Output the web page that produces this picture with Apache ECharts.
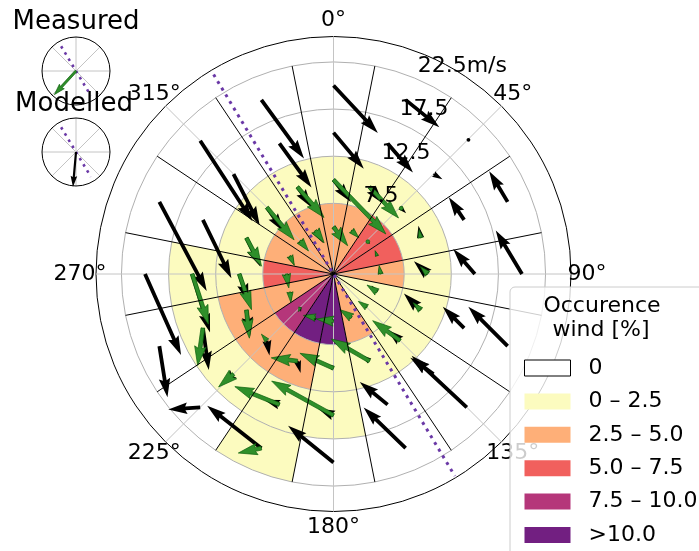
<!DOCTYPE html>
<html>
<head>
<meta charset="utf-8">
<script src="https://cdn.jsdelivr.net/npm/echarts@6/dist/echarts.min.js"></script>
<style>
  html, body { margin: 0; padding: 0; background: #ffffff; }
  #chart { width: 699px; height: 551px; }
</style>
</head>
<body>
<div id="chart"></div>
<script>
// ---- wind rose data -------------------------------------------------------
// 16 direction sectors (compass degrees, clockwise from north)
const sectorDirs = [0, 22.5, 45, 67.5, 90, 112.5, 135, 157.5, 180, 202.5, 225, 247.5, 270, 292.5, 315, 337.5];
// wind-speed bins (m/s): edges and the radius where each bin's vectors start
const speedEdges = [0, 7.5, 12.5, 17.5, 22.5];
const speedCentres = [5, 10, 15, 20];
const speedTicks = [7.5, 12.5, 17.5, 22.5];
const speedTickLabels = ['7.5', '12.5', '17.5', '22.5m/s'];
const angleTicks = [0, 45, 90, 135, 180, 225, 270, 315];
const angleTickLabels = ['0°', '45°', '90°', '135°', '180°', '225°', '270°', '315°'];

// occurrence classes (legend order)
const classLabels = ['0', '0 – 2.5', '2.5 – 5.0', '5.0 – 7.5', '7.5 – 10.0', '>10.0'];
const classColors = ['#ffffff', '#fcfbbf', '#feaf78', '#f1605d', '#b5367a', '#721f81'];

// occurrence class of each cell: one row per sector, inner -> outer speed bin
const occurrenceClass = [
  [2, 1, 0, 0], [2, 1, 0, 0], [3, 1, 0, 0], [3, 1, 0, 0],
  [2, 1, 0, 0], [1, 1, 0, 0], [1, 1, 0, 0], [2, 1, 0, 0],
  [5, 1, 1, 0], [5, 2, 1, 1], [4, 2, 1, 0], [2, 2, 1, 0],
  [3, 1, 1, 0], [2, 1, 0, 0], [2, 1, 0, 0], [2, 1, 0, 0]
];

// modelled mean vectors (black): direction the wind blows towards (deg) and magnitude
const modelledDir = [
  [140, 142, 140, 137], [135, 141, 139, 129], [135, 135, 120, 63], [340, 350, 326, 329],
  [350, 313, 319, 329], [320, 315, 315, 315], [315, 310, 305, 313], [310, 305, 309, 314],
  [300, 300, 294, 309], [200, 165, 288, 308], [170, 170, 230, 266], [170, 172, 172, 171],
  [165, 162, 163, 156], [155, 154, 154, 152], [145, 145, 153, 147], [148, 145, 144, 144]
];
const modelledLen = [
  [0.9, 3.0, 5.0, 6.9], [0.9, 2.3, 4.1, 4.6], [0.5, 0.9, 1.1, 0.4], [0.6, 1.3, 2.9, 3.8],
  [0.9, 2.0, 3.5, 5.4], [0.9, 2.5, 3.2, 5.9], [0.6, 1.8, 3.0, 8.0], [0.5, 1.1, 3.8, 6.2],
  [0.5, 0.9, 1.8, 6.2], [0.5, 1.3, 1.7, 7.3], [0.5, 1.6, 1.7, 3.4], [0.9, 2.8, 4.5, 5.5],
  [1.1, 3.2, 6.5, 9.4], [1.1, 3.4, 6.9, 10.7], [1.1, 3.2, 6.1, 10.2], [1.6, 2.7, 5.8, 7.7]
];

// measured mean vectors (green); null where nothing was measured
const measuredDir = [
  [143, 136, null, null], [135, 137, null, null], [135, 130, null, null], [340, 350, null, null],
  [350, 315, null, null], [305, 315, null, null], [305, 306, null, null], [304, 300, null, null],
  [277, 294, 299, null], [280, 277, 292, 258], [200, 320, 229, null], [175, 174, 188, null],
  [170, 161, 162, null], [155, 152, null, null], [141, 140, null, null], [145, 139, null, null]
];
const measuredLen = [
  [2.5, 8.0, null, null], [1.1, 4.5, null, null], [0.3, 0.3, null, null], [0.6, 0.9, null, null],
  [0.9, 1.1, null, null], [1.3, 1.1, null, null], [1.1, 3.6, null, null], [1.5, 4.7, null, null],
  [1.8, 3.9, 7.5, null], [1.3, 2.8, 5.1, 2.5], [0.5, 0.9, 2.1, null], [1.1, 3.0, 4.0, null],
  [1.5, 4.0, 5.6, null], [1.1, 3.4, null, null], [1.4, 4.5, null, null], [1.6, 4.3, null, null]
];

// orientation of the coastline drawn as a dotted reference line (deg)
const coastlineDir = 149;
// overall mean vectors for the two small roses: [direction, magnitude relative to rose radius]
const insetMeasured = [222.5, 0.94];
const insetModelled = [185, 1.03];

// ---- drawing helpers ------------------------------------------------------
const FONT = 'DejaVu Sans';
const D2R = Math.PI / 180;
const SECTOR_HALF = 11.25;
const SHAFT = 3.8;

function unitVec(dirDeg) {
  const t = dirDeg * D2R;
  return [Math.sin(t), -Math.cos(t)];
}

// quiver-style arrow polygon (tail at x0,y0)
function arrowShape(x0, y0, dirDeg, L, w) {
  const [ux, uy] = unitVec(dirDeg);
  const nx = -uy, ny = ux;
  const hw = 3 * w, hl = 5 * w, hal = 4.5 * w;
  if (L < w) {
    return { type: 'circle', shape: { cx: x0 + ux * L / 2, cy: y0 + uy * L / 2, r: w * 0.5 } };
  }
  let s = 1, Lr = L;
  if (L < hl) { s = L / hl; Lr = hl; }
  const local = [[0, -w / 2], [Lr - hal, -w / 2], [Lr - hl, -hw / 2], [Lr, 0],
                 [Lr - hl, hw / 2], [Lr - hal, w / 2], [0, w / 2]];
  const pts = local.map(([a, b]) => [x0 + s * (a * ux + b * nx), y0 + s * (a * uy + b * ny)]);
  return { type: 'polygon', shape: { points: pts } };
}

function cellsOfClass(c) {
  const out = [];
  occurrenceClass.forEach((row, k) => row.forEach((cls, j) => { if (cls === c) out.push([k, j]); }));
  return out;
}

function allCells() {
  const out = [];
  for (let k = 0; k < sectorDirs.length; k++) for (let j = 0; j < speedCentres.length; j++) out.push([k, j]);
  return out;
}

// ---- series ---------------------------------------------------------------
const cellSeries = classLabels.map((name, c) => ({
  type: 'custom',
  name: name,
  coordinateSystem: 'polar',
  polarIndex: 0,
  z: 1,
  silent: true,
  animation: false,
  itemStyle: { color: classColors[c] },
  data: cellsOfClass(c),
  renderItem: function (params, api) {
    const k = api.value(0), j = api.value(1);
    const ctr = api.coord([0, 0]);
    const r0 = api.coord([speedEdges[j], 0])[2];
    const r1 = api.coord([speedEdges[j + 1], 0])[2];
    const a0 = (sectorDirs[k] - SECTOR_HALF - 90) * D2R;
    const a1 = (sectorDirs[k] + SECTOR_HALF - 90) * D2R;
    return {
      type: 'sector',
      shape: { cx: ctr[0], cy: ctr[1], r0: r0, r: r1, startAngle: a0, endAngle: a1, clockwise: true },
      style: { fill: api.visual('color') }
    };
  }
}));

// polar grid drawn above the cells
const gridSeries = {
  type: 'custom', coordinateSystem: 'polar', polarIndex: 0, z: 2, silent: true, animation: false,
  data: [[0, 0]],
  renderItem: function (params, api) {
    const ctr = api.coord([0, 0]);
    const children = [];
    speedTicks.forEach(v => {
      children.push({ type: 'circle', shape: { cx: ctr[0], cy: ctr[1], r: api.coord([v, 0])[2] },
        style: { fill: 'none', stroke: '#b0b0b0', lineWidth: 1 } });
    });
    angleTicks.forEach(a => {
      const p = api.coord([25.2, a]);
      children.push({ type: 'line', shape: { x1: ctr[0], y1: ctr[1], x2: p[0], y2: p[1] },
        style: { stroke: '#c4c4c4', lineWidth: 1 } });
    });
    return { type: 'group', children: children };
  }
};

function arrowSeries(dirs, lens, color, z) {
  return {
    type: 'custom', coordinateSystem: 'polar', polarIndex: 0, z: z, silent: true, animation: false,
    data: allCells(),
    renderItem: function (params, api) {
      const k = api.value(0), j = api.value(1);
      const d = dirs[k][j], m = lens[k][j];
      if (d === null || m === null) return null;
      const tail = api.coord([speedCentres[j], sectorDirs[k]]);
      const px = api.coord([m, 0])[2];
      const el = arrowShape(tail[0], tail[1], d, px, SHAFT);
      el.style = color;
      return el;
    }
  };
}

// sector borders and coastline
const lineSeries = {
  type: 'custom', coordinateSystem: 'polar', polarIndex: 0, z: 5, silent: true, animation: false,
  data: [[0, 0]],
  renderItem: function (params, api) {
    const ctr = api.coord([0, 0]);
    const children = [];
    sectorDirs.forEach(s => {
      const p = api.coord([speedEdges[speedEdges.length - 1], s + SECTOR_HALF]);
      children.push({ type: 'line', shape: { x1: ctr[0], y1: ctr[1], x2: p[0], y2: p[1] },
        style: { stroke: '#000000', lineWidth: 1 } });
    });
    const pa = api.coord([24.7, coastlineDir + 180]);
    const pb = api.coord([25.0, coastlineDir]);
    children.push({ type: 'line', shape: { x1: pa[0], y1: pa[1], x2: pb[0], y2: pb[1] },
      style: { stroke: '#6a38a6', lineWidth: 3, lineDash: [3, 4.8], lineCap: 'butt' } });
    return { type: 'group', children: children };
  }
};

// tick labels of both axes
const labelSeries = {
  type: 'custom', coordinateSystem: 'polar', polarIndex: 0, z: 7, silent: true, animation: false,
  data: [[0, 0]],
  renderItem: function (params, api) {
    const children = [];
    angleTicks.forEach((a, i) => {
      const p = api.coord([26.9, a]);
      children.push({ type: 'text', x: p[0], y: p[1],
        style: { text: angleTickLabels[i], fontFamily: FONT, fontSize: 22, fill: '#000',
                 align: 'center', verticalAlign: 'middle' } });
    });
    speedTicks.forEach((v, i) => {
      const p = api.coord([v, 22.5]);
      children.push({ type: 'text', x: p[0] + 3, y: p[1] - 12,
        style: { text: speedTickLabels[i], fontFamily: FONT, fontSize: 22, fill: '#000',
                 align: 'left', verticalAlign: 'middle' } });
    });
    return { type: 'group', children: children };
  }
};

function insetSeries(polarIndex, vec, color) {
  return {
    type: 'custom', coordinateSystem: 'polar', polarIndex: polarIndex, z: 3, silent: true, animation: false,
    data: [[0, 0]],
    renderItem: function (params, api) {
      const pa = api.coord([0.85, coastlineDir + 180]);
      const pb = api.coord([0.85, coastlineDir]);
      const ctr = api.coord([0, 0]);
      const dotted = { type: 'line', shape: { x1: pa[0], y1: pa[1], x2: pb[0], y2: pb[1] },
        style: { stroke: '#6a38a6', lineWidth: 2.6, lineDash: [2.6, 4.6], lineCap: 'butt' } };
      const arrow = arrowShape(ctr[0], ctr[1], vec[0], api.coord([vec[1], 0])[2], 2.2);
      arrow.style = color;
      return { type: 'group', children: [dotted, arrow] };
    }
  };
}

const blackStyle = { fill: '#000000' };
const greenStyle = { fill: '#2f8f2a', stroke: '#0b600b', lineWidth: 0.7 };

const chart = echarts.init(document.getElementById('chart'), null, { renderer: 'canvas' });
chart.setOption({
  animation: false,
  backgroundColor: '#ffffff',
  polar: [
    { center: [333.5, 274], radius: [0, 237.5] },
    { center: [76, 71], radius: [0, 34] },
    { center: [76, 152], radius: [0, 34] }
  ],
  angleAxis: [0, 1, 2].map(i => ({
    polarIndex: i, type: 'value', min: 0, max: 360, interval: 45, startAngle: 90, clockwise: true,
    axisLine: { show: true, lineStyle: { color: '#000000', width: 1 } },
    axisTick: { show: false }, axisLabel: { show: false },
    splitLine: { show: i > 0, lineStyle: { color: '#c4c4c4', width: 1 } }
  })),
  radiusAxis: [
    { polarIndex: 0, type: 'value', min: 0, max: 25.2, show: false },
    { polarIndex: 1, type: 'value', min: 0, max: 1, show: false },
    { polarIndex: 2, type: 'value', min: 0, max: 1, show: false }
  ],
  legend: {
    orient: 'vertical', left: 519, top: 352, itemWidth: 46, itemHeight: 16, itemGap: 11.4,
    icon: 'rect', selectedMode: false, z: 20,
    textStyle: { fontFamily: FONT, fontSize: 22, color: '#000', lineHeight: 22, padding: [0, 0, 0, 13] },
    data: classLabels.map((n, i) => i === 0
      ? { name: n, itemStyle: { color: '#ffffff', borderColor: '#000000', borderWidth: 1 } }
      : { name: n })
  },
  graphic: [
    { type: 'rect', x: 510, y: 287, z: 15, shape: { width: 200, height: 280, r: 5 },
      style: { fill: 'rgba(255,255,255,0.8)', stroke: '#cccccc', lineWidth: 1 } },
    { type: 'text', x: 602, y: 306, z: 16,
      style: { text: 'Occurence', fontFamily: FONT, fontSize: 22, fill: '#000', align: 'center', verticalAlign: 'middle' } },
    { type: 'text', x: 601, y: 330, z: 16,
      style: { text: 'wind [%]', fontFamily: FONT, fontSize: 22, fill: '#000', align: 'center', verticalAlign: 'middle' } },
    { type: 'text', x: 76, y: 22, z: 16,
      style: { text: 'Measured', fontFamily: FONT, fontSize: 26, fill: '#000', align: 'center', verticalAlign: 'middle' } },
    { type: 'text', x: 74, y: 104, z: 16,
      style: { text: 'Modelled', fontFamily: FONT, fontSize: 26, fill: '#000', align: 'center', verticalAlign: 'middle' } }
  ],
  series: [
    ...cellSeries,
    gridSeries,
    arrowSeries(modelledDir, modelledLen, blackStyle, 3),
    arrowSeries(measuredDir, measuredLen, greenStyle, 4),
    lineSeries,
    labelSeries,
    insetSeries(1, insetMeasured, greenStyle),
    insetSeries(2, insetModelled, blackStyle)
  ]
});
</script>
</body>
</html>
